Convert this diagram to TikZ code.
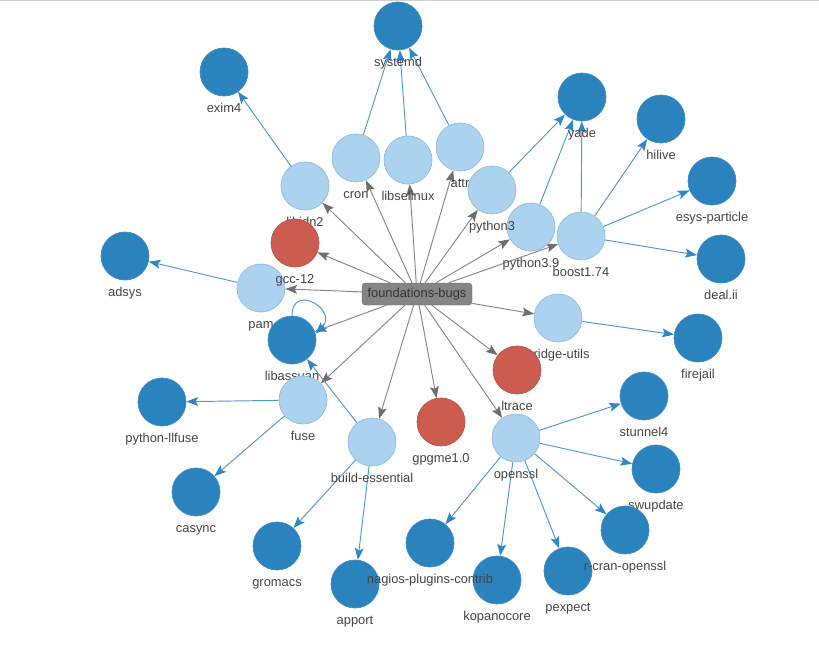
\documentclass[tikz,border=0pt]{standalone}
\usepackage{fontspec}
\setmainfont{Liberation Sans}
\usepackage{xcolor}
\usetikzlibrary{arrows.meta, backgrounds}

\definecolor{darkblue}{HTML}{2B83BE}
\definecolor{darkedge}{HTML}{3A8DC6}
\definecolor{lightblue}{HTML}{ABD3EF}
\definecolor{lightedge}{HTML}{8FBDDF}
\definecolor{bugred}{HTML}{CD5C50}
\definecolor{bugedge}{HTML}{B9554A}
\definecolor{rootgray}{HTML}{858585}
\definecolor{rootedge}{HTML}{6B6B6B}
\definecolor{edgegray}{HTML}{858585}
\definecolor{tipgray}{HTML}{6E6E6E}
\definecolor{edgeblue}{HTML}{4A98D0}
\definecolor{tipblue}{HTML}{2E88C8}
\definecolor{labelgray}{HTML}{444444}

\begin{document}
\begin{tikzpicture}[
        x=0.03cm, y=-0.03cm,
        font=\fontsize{11}{13}\selectfont,
        label distance=6.4pt,
        pkg/.style={circle, minimum size=1.44cm, inner sep=0pt, line width=0.6pt},
        dark/.style={pkg, fill=darkblue, draw=darkedge},
        light/.style={pkg, fill=lightblue, draw=lightedge},
        bug/.style={pkg, fill=bugred, draw=bugedge},
        every label/.style={text=labelgray, inner sep=0pt, text height=0.75em, text depth=0.2em},
        root/.style={rectangle, rounded corners=3pt, fill=rootgray, draw=rootedge, text=black!80,
            minimum width=3.3cm, minimum height=0.66cm, inner sep=0pt},
        dep/.style={draw=edgegray, line width=0.8pt, -{Stealth[length=10pt, width=7.5pt, inset=2pt, color=tipgray]}},
        rdep/.style={draw=edgeblue, line width=0.8pt, -{Stealth[length=10pt, width=7.5pt, inset=2pt, color=tipblue]}}
    ]
    \useasboundingbox (0,0) rectangle (819,646);
    \draw[black!18, line width=1.2pt] (0,0.6) -- (819,0.6);

    % Root
    \node[root] (bugs) at (417,294) {foundations-bugs};

    % Packages, in drawing order
    \node[light, label=below:cron] (cron) at (356,158) {};
    \node[light, label=below:libselinux] (libselinux) at (408,160) {};
    \node[light, label=below:attr] (attr) at (460,147) {};
    \node[light, label=below:python3.9] (python39) at (531,227) {};
    \node[light, label=below:boost1.74] (boost) at (581,236) {};
    \node[light, label=below:python3] (python3) at (492,190) {};
    \node[light, label=below:libidn2] (libidn2) at (305,186) {};
    \node[light, label=below:pam] (pam) at (261,288) {};
    \node[bug, label=below:gcc-12] (gcc) at (295,243) {};
    \node[dark, label=below:libassuan] (libassuan) at (292,340) {};
    \node[light, label=below:fuse] (fuse) at (303,400) {};
    \node[light, label=below:bridge-utils] (bridge) at (558,318) {};
    \node[bug, label=below:ltrace] (ltrace) at (517,370) {};
    \node[bug, label=below:gpgme1.0] (gpgme) at (441,422) {};
    \node[light, label=below:build-essential] (build) at (372,442) {};
    \node[light, label=below:openssl] (openssl) at (516,438) {};

    % Users of the packages
    \node[dark, label=below:systemd] (systemd) at (398,26) {};
    \node[dark, label=below:exim4] (exim) at (224,72) {};
    \node[dark, label=below:yade] (yade) at (582,97) {};
    \node[dark, label=below:hilive] (hilive) at (661,119) {};
    \node[dark, label=below:esys-particle] (esys) at (712,181) {};
    \node[dark, label=below:deal.ii] (dealii) at (721,259) {};
    \node[dark, label=below:adsys] (adsys) at (125,256) {};
    \node[dark, label=below:firejail] (firejail) at (698,338) {};
    \node[dark, label=below:python-llfuse] (llfuse) at (162,402) {};
    \node[dark, label=below:stunnel4] (stunnel) at (644,396) {};
    \node[dark, label=below:swupdate] (swupdate) at (656,469) {};
    \node[dark, label=below:casync] (casync) at (196,492) {};
    \node[dark, label=below:gromacs] (gromacs) at (277,546) {};
    \node[dark, label=below:kopanocore] (kopano) at (497,580) {};
    \node[dark, label=below:pexpect] (pexpect) at (568,571) {};
    \node[dark, label=below:apport] (apport) at (355,584) {};
    \node[dark, label=below:nagios-plugins-contrib] (nagios) at (430,543) {};
    \node[dark, label=below:r-cran-openssl] (rcran) at (625,530) {};

    \begin{scope}[on background layer]
        % foundations-bugs to its packages
        \foreach \n in {cron, libselinux, attr, libidn2, python3, python39, boost, gcc, pam,
                libassuan, bridge, ltrace, fuse, gpgme, build, openssl}
            \draw[dep] (bugs) -- (\n);

        % Packages to their users
        \foreach \a/\b in {cron/systemd, libselinux/systemd, attr/systemd, libidn2/exim,
                python3/yade, python39/yade, boost/yade, boost/hilive, boost/esys, boost/dealii,
                pam/adsys, bridge/firejail, fuse/llfuse, fuse/casync, build/libassuan,
                build/gromacs, build/apport, openssl/stunnel, openssl/swupdate, openssl/rcran,
                openssl/nagios, openssl/kopano, openssl/pexpect}
            \draw[rdep] (\a) -- (\b);
    \end{scope}
    \draw[rdep] (libassuan.90) to[out=90, in=45, distance=1cm] (libassuan.15);

\end{tikzpicture}
\end{document}
